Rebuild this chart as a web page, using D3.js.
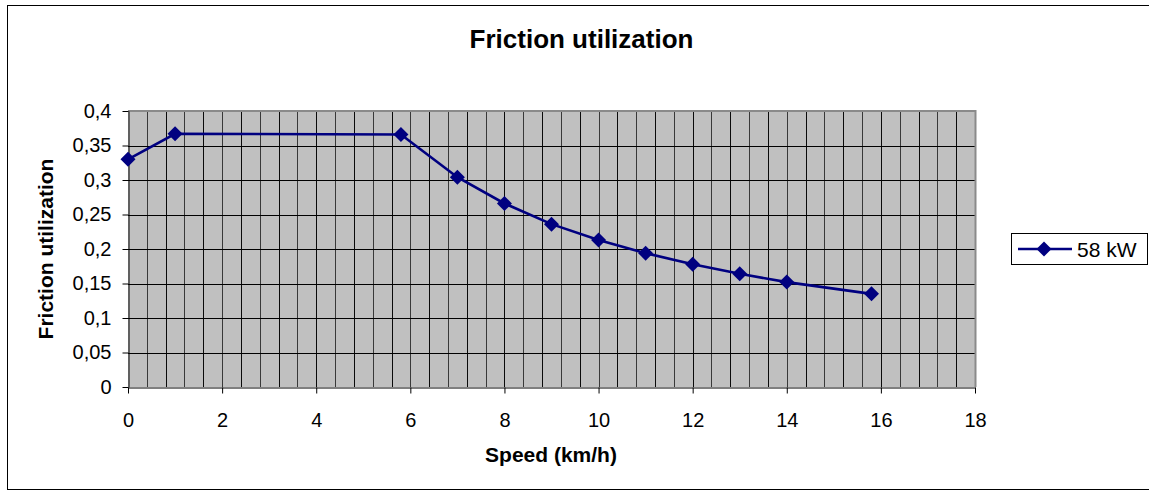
<!DOCTYPE html>
<html>
<head>
<meta charset="utf-8">
<script src="https://cdn.jsdelivr.net/npm/d3@7"></script>
<style>
  html, body { margin: 0; padding: 0; background: #fff; overflow: hidden; }
  svg { display: block; font-family: "Liberation Sans", Arial, sans-serif; }
</style>
</head>
<body>
<svg id="chart" width="1149" height="495"></svg>
<script>
const speeds = [0, 1, 5.8, 7, 8, 9, 10, 11, 12, 13, 14, 15.8];
const friction = [0.330, 0.367, 0.366, 0.304, 0.266, 0.236, 0.213, 0.194, 0.178, 0.164, 0.152, 0.135];
const seriesName = "58 kW";
const xTicks = [0, 2, 4, 6, 8, 10, 12, 14, 16, 18];
const yTicks = [0, 0.05, 0.1, 0.15, 0.2, 0.25, 0.3, 0.35, 0.4];
const yTickLabels = ["0", "0,05", "0,1", "0,15", "0,2", "0,25", "0,3", "0,35", "0,4"];
const xMinorStep = 0.4;
const chartTitle = "Friction utilization";
const xTitle = "Speed (km/h)";
const yTitle = "Friction utilization";

(function () {
const svg = d3.select("#chart");
const pL = 128, pR = 975, pT = 111, pB = 387;
const x = d3.scaleLinear().domain([0, 18]).range([pL, pR]);
const y = d3.scaleLinear().domain([0, 0.4]).range([pB, pT]);
const navy = "#000080";
const font = "'Liberation Sans', Arial, sans-serif";

// outer border (right side runs off the canvas as in the reference)
svg.append("rect").attr("x", 7.5).attr("y", 5.5).attr("width", 1150).attr("height", 484)
  .attr("fill", "#fff").attr("stroke", "#000").attr("stroke-width", 1);

// plot background
svg.append("rect").attr("x", pL).attr("y", pT).attr("width", pR - pL).attr("height", pB - pT)
  .attr("fill", "#C0C0C0");

// vertical minor gridlines
const xGrid = d3.range(1, 45).map(i => i * xMinorStep);
svg.append("g").selectAll("line").data(xGrid).join("line")
  .attr("x1", d => Math.round(x(d)) + 0.5).attr("x2", d => Math.round(x(d)) + 0.5)
  .attr("y1", pT).attr("y2", pB)
  .attr("stroke", "#000").attr("stroke-width", 1).attr("stroke-opacity", (d, i) => i % 2 ? 0.95 : 0.7);

// horizontal gridlines
svg.append("g").selectAll("line").data(yTicks.slice(1, -1)).join("line")
  .attr("x1", pL).attr("x2", pR)
  .attr("y1", d => Math.round(y(d)) + 0.5).attr("y2", d => Math.round(y(d)) + 0.5)
  .attr("stroke", "#000").attr("stroke-width", 1);

// plot border top/right gray
svg.append("path")
  .attr("d", `M${pL},${pT}H${pR + 0.5}V${pB}`)
  .attr("fill", "none").attr("stroke", "#8a8a8a").attr("stroke-width", 2);

// axes
const xAxis = d3.axisBottom(x).tickValues(xTicks).tickSize(6).tickSizeOuter(0).tickPadding(19)
  .tickFormat(d => String(d));
const gx = svg.append("g").attr("transform", `translate(0,${pB + 0.5})`).call(xAxis);
gx.select(".domain").attr("stroke", "#000");
gx.selectAll("text").attr("font-size", 20).attr("fill", "#000").attr("font-family", font);

const yAxis = d3.axisLeft(y).tickValues(yTicks).tickSize(6).tickSizeOuter(0).tickPadding(11)
  .tickFormat((d, i) => yTickLabels[i]);
const gy = svg.append("g").attr("transform", `translate(${pL + 0.5},0)`).call(yAxis);
gy.select(".domain").attr("stroke", "#000");
gy.selectAll("text").attr("font-size", 20).attr("fill", "#000").attr("font-family", font);

// series line
const pts = speeds.map((s, i) => [s, friction[i]]);
svg.append("path").datum(pts)
  .attr("d", d3.line().x(d => x(d[0])).y(d => y(d[1])))
  .attr("fill", "none").attr("stroke", navy).attr("stroke-width", 2.6);

const diamondPath = "M0,-7.5L7.5,0L0,7.5L-7.5,0Z";
svg.append("g").selectAll("path").data(pts).join("path")
  .attr("transform", d => `translate(${x(d[0])},${y(d[1])})`)
  .attr("d", diamondPath).attr("fill", navy);

// titles
svg.append("text").attr("x", 581.5).attr("y", 48).attr("text-anchor", "middle")
  .attr("font-size", 26).attr("font-weight", "bold").text(chartTitle);
svg.append("text").attr("x", 551).attr("y", 462).attr("text-anchor", "middle")
  .attr("font-size", 21).attr("font-weight", "bold").text(xTitle);
svg.append("text").attr("transform", "translate(53,249) rotate(-90)").attr("text-anchor", "middle")
  .attr("font-size", 21).attr("font-weight", "bold").text(yTitle);

// legend
const lg = svg.append("g");
lg.append("rect").attr("x", 1011.5).attr("y", 233.5).attr("width", 136).attr("height", 31)
  .attr("fill", "#fff").attr("stroke", "#000");
lg.append("line").attr("x1", 1018).attr("x2", 1072).attr("y1", 249).attr("y2", 249)
  .attr("stroke", navy).attr("stroke-width", 2.6);
lg.append("path").attr("transform", "translate(1044,249)").attr("d", diamondPath).attr("fill", navy);
lg.append("text").attr("x", 1077).attr("y", 257).attr("font-size", 21).text(seriesName);
})();
</script>
</body>
</html>
